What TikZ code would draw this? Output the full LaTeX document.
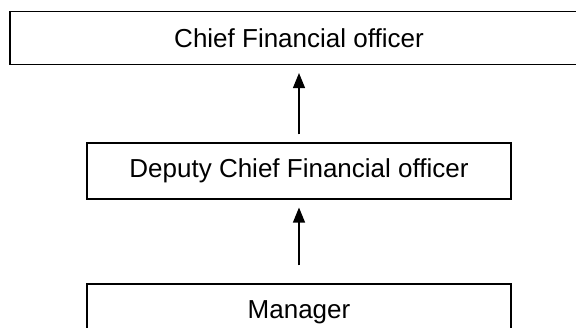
\documentclass[tikz,border=0pt]{standalone}
\usepackage{fontspec}
\setmainfont{Liberation Sans}
\usetikzlibrary{arrows.meta}

\begin{document}
\begin{tikzpicture}[x=1pt,y=1pt,
   post/.style={draw,line width=1.1pt,inner sep=0pt,minimum height=53pt,font=\fontsize{26}{30}\selectfont},
   up/.style={-{Triangle[length=15pt,width=12pt]},line width=1.1pt,shorten >=8pt}]
   \clip (0,0) rectangle (576,328);
   \node[post,minimum width=578pt] (cfo) at (299,290) {Chief Financial officer};
   \node[post,minimum width=424pt,minimum height=56pt] (dcfo) at (299,157) {Deputy Chief Financial officer};
   \node[post,minimum width=424pt,minimum height=56pt] (mgr) at (299,16) {Manager};
   \draw[up,shorten <=8pt] (dcfo) -- (cfo);
   \draw[up,shorten <=18pt] (mgr) -- (dcfo);
\end{tikzpicture}
\end{document}
